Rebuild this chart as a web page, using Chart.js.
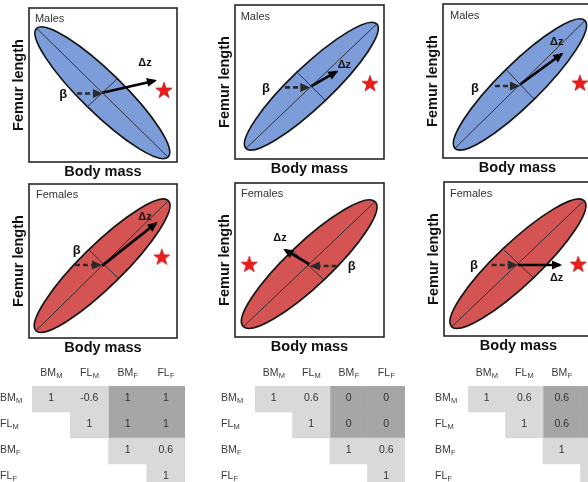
<!DOCTYPE html>
<html>
<head>
<meta charset="utf-8">
<script src="https://cdn.jsdelivr.net/npm/chart.js@4.4.0/dist/chart.umd.min.js"></script>
<style>
html, body { margin: 0; padding: 0; background: #fff; }
body { position: relative; width: 588px; height: 482px; overflow: hidden; }
canvas { position: absolute; }
</style>
</head>
<body>
<script>
// ---- panel data, axis units 0-100 (x = body mass, y = femur length) ----
const panelNames = ["Males", "Males", "Males", "Females", "Females", "Females"];
const majorAxis = [
    [[5.2, 86.8], [93.9, 3.2]],
    [[7.4, 6.9], [95.1, 87.7]],
    [[8.0, 6.3], [95.3, 89.2]],
    [[4.7, 4.7], [94.1, 89.2]],
    [[5.6, 6.7], [94.0, 87.9]],
    [[5.2, 6.0], [94.0, 87.9]]
];
const minorAxis = [
    [[39.2, 35.7], [59.5, 53.9]],
    [[41.4, 56.7], [60.4, 38.3]],
    [[42.7, 57.1], [61.7, 37.7]],
    [[40.1, 57.6], [60.3, 38.8]],
    [[38.0, 56.5], [59.3, 37.5]],
    [[39.8, 56.3], [60.4, 37.5]]
];
const betaArrow = [
    [[32.5, 44.5], [48.6, 44.5]],
    [[33.6, 46.5], [49.2, 46.5]],
    [[34.9, 46.8], [50.3, 46.8]],
    [[31.1, 47.4], [48.0, 47.4]],
    [[68.2, 46.1], [51.5, 46.1]],
    [[32.0, 46.1], [48.3, 46.1]]
];
const dzArrow = [
    [[49.5, 45.0], [85.1, 52.8]],
    [[51.2, 47.3], [68.2, 56.7]],
    [[51.7, 47.7], [79.7, 67.5]],
    [[49.5, 47.0], [85.8, 74.5]],
    [[49.8, 47.3], [33.6, 56.5]],
    [[49.6, 46.1], [77.9, 46.1]]
];
const starPoint = [[91.2, 46.8], [90.6, 49.2], [91.9, 48.9], [89.7, 52.8], [9.6, 47.4], [90.1, 46.8]];
const betaLabel = [[23.2, 44.0], [20.8, 46.0], [21.5, 45.3], [32.2, 57.1], [78.3, 45.6], [20.1, 46.1]];
const dzLabel = [[78.4, 64.1], [73.4, 61.0], [76.3, 75.5], [78.4, 78.8], [30.2, 64.1], [75.6, 37.5]];
const nameLabel = [[4.0, 92.9], [3.8, 92.4], [4.7, 92.2], [4.7, 92.9], [4.0, 92.9], [4.0, 92.2]];

// ---- correlation tables ----
const varNames = [["BM", "M"], ["FL", "M"], ["BM", "F"], ["FL", "F"]];
const cellShade = [
    ["L", "L", "D", "D"],
    [null, "L", "D", "D"],
    [null, null, "L", "L"],
    [null, null, null, "L"]
];
const corr1 = [[1, -0.6, 1, 1], [null, 1, 1, 1], [null, null, 1, 0.6], [null, null, null, 1]];
const corr2 = [[1, 0.6, 0, 0], [null, 1, 0, 0], [null, null, 1, 0.6], [null, null, null, 1]];
const corr3 = [[1, 0.6, 0.6, 0.6], [null, 1, 0.6, 0.6], [null, null, 1, 0.6], [null, null, null, 1]];

const FONT = "'Liberation Sans', Arial, sans-serif";
const fills = { Males: "#7c9dd9", Females: "#d45353" };
const shades = { L: "#d9d9d9", D: "#a6a6a6" };

// where each panel's box sits on the page
const boxes = [
    { l: 29, t: 8, w: 148, h: 154 },
    { l: 235, t: 5, w: 149, h: 154 },
    { l: 443, t: 4, w: 149, h: 154 },
    { l: 29, t: 184, w: 148, h: 154 },
    { l: 235, t: 183, w: 149, h: 154 },
    { l: 444, t: 182, w: 149, h: 154 }
];

function makeStar(size) {
    let c = document.createElement("canvas");
    c.width = size; c.height = size;
    let g = c.getContext("2d");
    let cx = size / 2, cy = size / 2 + 0.8, R = size / 2 - 0.5, r = R * 0.4;
    g.beginPath();
    for (let i = 0; i < 10; i++) {
        let a = -Math.PI / 2 + i * Math.PI / 5;
        let rad = i % 2 ? r : R;
        g.lineTo(cx + rad * Math.cos(a), cy + rad * Math.sin(a));
    }
    g.closePath();
    g.fillStyle = "#ee1b1b";
    g.fill();
    g.strokeStyle = "#b80d0d";
    g.lineWidth = 0.7;
    g.stroke();
    return c;
}
const starImg = makeStar(18);

function xy(p) { return { x: p[0], y: p[1] }; }

function panelPlugin(k) {
    return {
        id: "panel" + k,
        beforeDatasetsDraw(chart) {
            let ctx = chart.ctx, sx = chart.scales.x, sy = chart.scales.y;
            let px = p => [sx.getPixelForValue(p[0]), sy.getPixelForValue(p[1])];
            let [a, b] = majorAxis[k].map(px);
            let [c, d] = minorAxis[k].map(px);
            let cx = (a[0] + b[0]) / 2, cy = (a[1] + b[1]) / 2;
            let mx = (c[0] + d[0]) / 2, my = (c[1] + d[1]) / 2;
            ctx.save();
            ctx.beginPath();
            ctx.translate(cx, cy);
            ctx.transform(b[0] - cx, b[1] - cy, d[0] - mx, d[1] - my, 0, 0);
            ctx.arc(0, 0, 1, 0, Math.PI * 2);
            ctx.restore();
            ctx.save();
            ctx.fillStyle = fills[panelNames[k]];
            ctx.fill();
            ctx.lineWidth = 1.7;
            ctx.strokeStyle = "#151515";
            ctx.stroke();
            ctx.restore();
        },
        afterDatasetsDraw(chart) {
            let ctx = chart.ctx, sx = chart.scales.x, sy = chart.scales.y;
            ctx.save();
            // arrow heads
            chart.data.datasets.forEach((ds, i) => {
                if (!ds.arrowHead) return;
                let pts = chart.getDatasetMeta(i).data;
                let p0 = pts[0], p1 = pts[1];
                let ang = Math.atan2(p1.y - p0.y, p1.x - p0.x);
                ctx.save();
                ctx.translate(p1.x, p1.y);
                ctx.rotate(ang);
                ctx.beginPath();
                ctx.moveTo(2, 0);
                ctx.lineTo(-8, -4.5);
                ctx.lineTo(-8, 4.5);
                ctx.closePath();
                ctx.fillStyle = ds.borderColor;
                ctx.fill();
                ctx.restore();
            });
            // labels
            ctx.fillStyle = "#111";
            ctx.textBaseline = "middle";
            ctx.textAlign = "center";
            ctx.font = "bold 13px " + FONT;
            ctx.fillText("β", sx.getPixelForValue(betaLabel[k][0]), sy.getPixelForValue(betaLabel[k][1]));
            ctx.font = "bold 11px " + FONT;
            ctx.fillText("Δz", sx.getPixelForValue(dzLabel[k][0]), sy.getPixelForValue(dzLabel[k][1]));
            ctx.textAlign = "left";
            ctx.font = "11px " + FONT;
            ctx.fillStyle = "#333";
            ctx.fillText(panelNames[k], sx.getPixelForValue(nameLabel[k][0]), sy.getPixelForValue(nameLabel[k][1]));
            // box
            let ca = chart.chartArea;
            ctx.lineWidth = 1.6;
            ctx.strokeStyle = "#262626";
            ctx.strokeRect(ca.left, ca.top, ca.right - ca.left, ca.bottom - ca.top);
            ctx.restore();
        }
    };
}

// title sizes: lineHeight 1.2 * 14.5 plus paddings
const Y_SIZE = 2 + 14.5 * 1.2 + 1.3;
const X_SIZE = 1 + 14.5 * 1.2 + 2;
const PAD = 12;

function makePanel(k) {
    let b = boxes[k];
    let cv = document.createElement("canvas");
    let padL = 25 - Y_SIZE;
    cv.width = 25 + b.w + PAD;
    cv.height = PAD + b.h + Math.ceil(X_SIZE) + 2;
    cv.style.left = (b.l - 25) + "px";
    cv.style.top = (b.t - PAD) + "px";
    document.body.appendChild(cv);
    let padB = cv.height - PAD - b.h - X_SIZE;

    let axisTitle = (text, pad) => ({
        display: true, text: text, color: "#111", padding: pad,
        font: { family: FONT, size: 14.5, weight: "bold" }
    });

    new Chart(cv, {
        type: "scatter",
        data: {
            datasets: [
                { data: dzArrow[k].map(xy), showLine: true, borderColor: "#000", borderWidth: 2.6, pointRadius: 0, arrowHead: true },
                { data: betaArrow[k].map(xy), showLine: true, borderColor: "#2a2a2a", borderWidth: 2.6, borderDash: [5, 3], pointRadius: 0, arrowHead: true },
                { data: [xy(starPoint[k])], pointStyle: starImg, pointRadius: 1 },
                { data: majorAxis[k].map(xy), showLine: true, borderColor: "#333", borderWidth: 1, pointRadius: 0 },
                { data: minorAxis[k].map(xy), showLine: true, borderColor: "#333", borderWidth: 1, pointRadius: 0 }
            ]
        },
        options: {
            responsive: false,
            animation: false,
            devicePixelRatio: 1,
            layout: { padding: { left: padL, top: PAD, right: PAD, bottom: padB } },
            plugins: { legend: { display: false }, tooltip: { enabled: false } },
            scales: {
                x: {
                    min: 0, max: 100,
                    grid: { display: false, drawTicks: false },
                    border: { display: false },
                    ticks: { display: false },
                    title: axisTitle("Body mass", { top: 1, bottom: 2 })
                },
                y: {
                    min: 0, max: 100,
                    grid: { display: false, drawTicks: false },
                    border: { display: false },
                    ticks: { display: false },
                    title: axisTitle("Femur length", { top: 2, bottom: 1.3 })
                }
            }
        },
        plugins: [panelPlugin(k)]
    });
}

function drawSub(ctx, base, sub, x, y, align) {
    ctx.font = "10.5px " + FONT;
    let wb = ctx.measureText(base).width;
    ctx.font = "7.5px " + FONT;
    let ws = ctx.measureText(sub).width;
    let x0 = align === "center" ? x - (wb + ws) / 2 : x;
    ctx.textAlign = "left";
    ctx.font = "10.5px " + FONT;
    ctx.fillText(base, x0, y);
    ctx.font = "7.5px " + FONT;
    ctx.fillText(sub, x0 + wb + 0.3, y + 3);
}

function tablePlugin(values, labelGap) {
    return {
        id: "cells",
        afterDatasetsDraw(chart) {
            let ctx = chart.ctx, sx = chart.scales.x, sy = chart.scales.y;
            let ca = chart.chartArea;
            ctx.save();
            ctx.fillStyle = "#3a3a3a";
            ctx.textBaseline = "middle";
            varNames.forEach((v, j) => {
                drawSub(ctx, v[0], v[1], sx.getPixelForValue(j + 0.5), ca.top - 13, "center");
            });
            varNames.forEach((v, i) => {
                drawSub(ctx, v[0], v[1], ca.left - labelGap, sy.getPixelForValue(i) - 1, "left");
            });
            ctx.font = "10.5px " + FONT;
            ctx.textAlign = "center";
            ctx.fillStyle = "#333";
            chart.data.datasets.forEach((ds, j) => {
                chart.getDatasetMeta(j).data.forEach((el, i) => {
                    let v = values[i][j];
                    if (v === null) return;
                    ctx.fillText(String(v), (el.x + el.base) / 2, el.y - 1);
                });
            });
            ctx.restore();
        }
    };
}

function makeTable(values, area, labelGap) {
    let cv = document.createElement("canvas");
    cv.width = 40 + area.w + 4;
    cv.height = 30 + area.h + 4;
    cv.style.left = (area.l - 40) + "px";
    cv.style.top = (area.t - 30) + "px";
    document.body.appendChild(cv);

    let datasets = varNames.map((v, j) => ({
        data: values.map(row => row[j] === null ? null : [j, j + 1]),
        backgroundColor: cellShade.map(row => shades[row[j]] || "#fff"),
        borderWidth: 0,
        barPercentage: 1,
        categoryPercentage: 1,
        grouped: false
    }));

    new Chart(cv, {
        type: "bar",
        data: { labels: varNames.map(v => v[0] + v[1]), datasets: datasets },
        options: {
            indexAxis: "y",
            responsive: false,
            animation: false,
            devicePixelRatio: 1,
            layout: { padding: { left: 40, top: 30, right: 4, bottom: 4 } },
            plugins: { legend: { display: false }, tooltip: { enabled: false } },
            scales: {
                x: { type: "linear", min: 0, max: 4, display: false },
                y: { type: "category", display: false, offset: true }
            }
        },
        plugins: [tablePlugin(values, labelGap)]
    });
}

for (let k = 0; k < 6; k++) makePanel(k);
makeTable(corr1, { l: 32, t: 386, w: 153, h: 104 }, 32);
makeTable(corr2, { l: 255, t: 386, w: 150, h: 104 }, 34);
makeTable(corr3, { l: 468, t: 386, w: 150, h: 104 }, 33);
</script>
</body>
</html>
